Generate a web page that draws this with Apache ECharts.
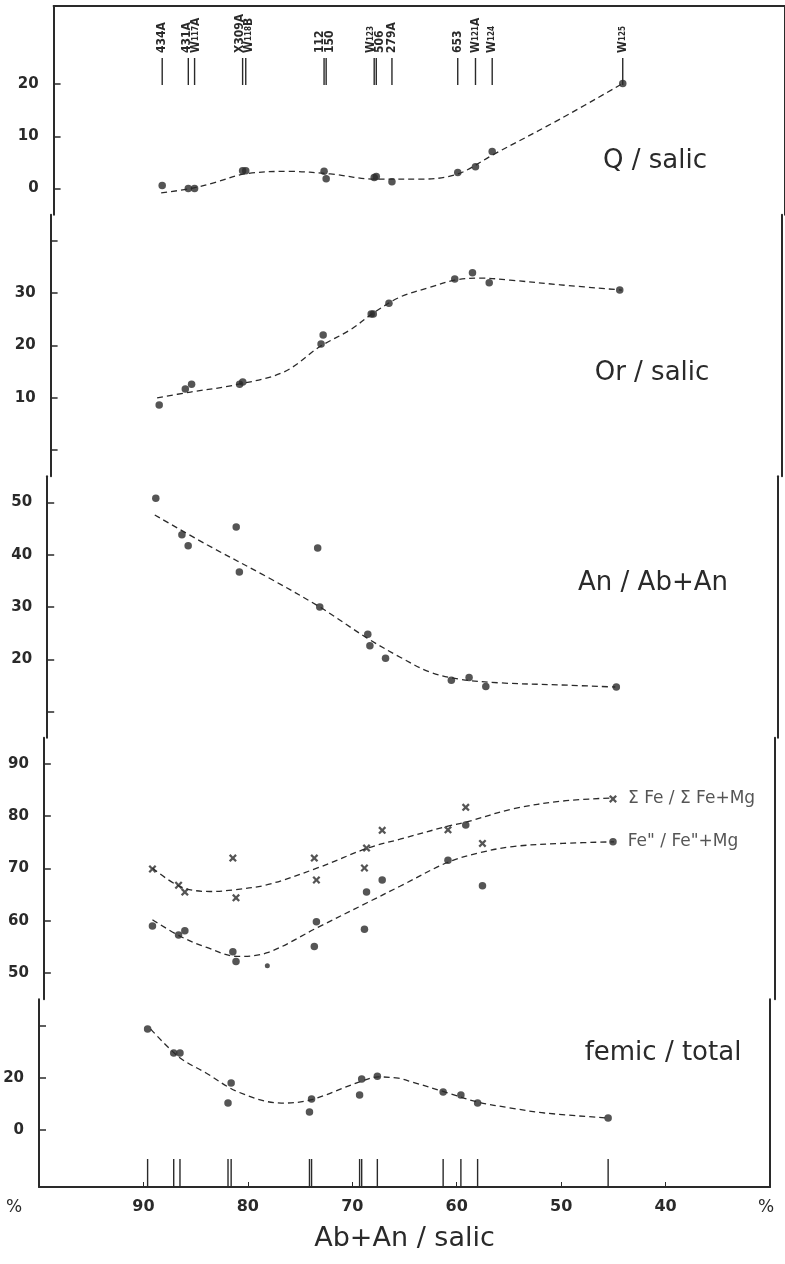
<!DOCTYPE html>
<html><head><meta charset="utf-8">
<script src="https://cdn.jsdelivr.net/npm/echarts@6/dist/echarts.min.js"></script>
<style>html,body{margin:0;padding:0;background:#fff}#c{width:785px;height:1264px}</style>
</head><body><div id="c"></div>
<script>
// ---------- data ----------
const samples  = ['434A','431A','W117A','X309A','W118B','112','150','W123','506','279A','653','W121A','W124','W125'];
const sampleX  = [89.6, 87.1, 86.5, 81.9, 81.6, 74.1, 73.9, 69.3, 69.1, 67.6, 61.3, 59.6, 58.0, 45.5];
const qVals     = [0.6, 0.0, 0.0, 3.4, 3.4, 3.3, 1.9, 2.1, 2.3, 1.3, 3.1, 4.2, 7.1, 20.1];
const orVals    = [8.6, 11.7, 12.6, 12.6, 13.0, 20.3, 22.0, 26.0, 26.0, 28.1, 32.7, 33.9, 32.0, 30.6];
const anVals    = [50.8, 43.8, 41.7, 45.3, 36.7, 41.3, 30.0, 24.8, 22.6, 20.2, 16.0, 16.5, 14.8, 14.7];
const feTotVals = [69.9, 66.8, 65.5, 72.0, 64.4, 72.0, 67.8, 70.1, 73.9, 77.3, 77.4, 81.7, 74.8, 83.3];
const fe2Vals   = [59.0, 57.3, 58.1, 54.1, 52.2, 55.1, 59.8, 58.4, 65.5, 67.8, 71.6, 78.3, 66.7, 75.1];
const femicVals = [38.6, 29.4, 29.4, 10.3, 18.0, 6.9, 11.9, 13.4, 19.5, 20.6, 14.5, 13.4, 10.3, 4.6];
const fe2Extra  = [[78.6, 51.4]];

const qCurve = [[89.7,-0.8],[86.9,0],[84.5,1.2],[81.7,2.8],[77.4,3.3],[73.5,2.8],[69.2,1.8],[64.9,1.8],[61.3,2.8],[57.9,6.5],[51.5,13.3],[45.5,20.1]];
const orCurve = [[89.8,10.0],[86.6,11.1],[82.5,12.4],[77.7,14.9],[74.2,19.8],[71.3,23.0],[69.1,26.2],[66.5,29.3],[63.7,31.1],[61.3,32.5],[58.9,32.9],[56.0,32.5],[51.2,31.6],[45.3,30.6]];
const anCurve = [[89.7,47.6],[84.7,41.9],[78.9,35.7],[73.9,30.0],[69.4,24.1],[66.2,20.4],[63.4,17.6],[60.5,16.2],[56.7,15.5],[50.9,15.1],[45.6,14.7]];
const feTotCurve = [[89.6,70.1],[86.9,66.5],[84.1,65.6],[81.9,65.9],[78.6,66.9],[73.8,70.1],[69.0,73.9],[65.9,75.6],[61.3,78.1],[59.5,78.9],[55.1,81.4],[50.3,82.9],[45.5,83.5]];
const fe2Curve = [[89.6,60.2],[86.9,57.0],[84.4,54.9],[81.5,53.2],[78.6,53.9],[73.8,58.7],[69.0,63.5],[65.9,66.6],[61.3,71.2],[58.3,73.0],[55.1,74.2],[50.3,74.8],[45.4,75.1]];
const femicCurve = [[89.3,38.6],[86.6,27.9],[84.0,21.8],[80.9,14.5],[76.8,10.3],[74.0,11.5],[69.1,18.7],[67.5,20.3],[65.6,19.8],[64.3,18.4],[61.1,14.5],[58.0,10.7],[54.8,8.4],[51.6,6.5],[45.6,4.6]];

const qTicks = [0,10,20], qLabels = [0,10,20];
const orTicks = [0,10,20,30,40], orLabels = [10,20,30];
const anTicks = [10,20,30,40,50], anLabels = [20,30,40,50];
const feTicks = [50,60,70,80,90], feLabels = [50,60,70,80,90];
const femicTicks = [0,20,40], femicLabels = [0,20];
const xLabels = [90,80,70,60,50,40];
const panelTitles = ['Q / salic','Or / salic','An / Ab+An','femic / total'];
const feLegend = ['Σ Fe / Σ Fe+Mg', 'Fe" / Fe"+Mg'];
const xTitle = 'Ab+An / salic';

// ---------- layout ----------
const INK = '#2a2a2a';
const R0 = 84, STEP = 52.3, XMIN = 30, XMAX = 100, BL = 39, BR = 15, AXIS_Y = 1187, H = 1264;
const panels = [
  {ref:0,  refIdx:2,  sv:10, t:(6-R0)/STEP, b:2.5,  skew:14.6, ticks:qTicks, labels:qLabels},
  {ref:10, refIdx:6,  sv:10, t:2.5,  b:7.5,  skew:11.6, ticks:orTicks, labels:orLabels},
  {ref:20, refIdx:11, sv:10, t:7.5,  b:12.5, skew:8.2,  ticks:anTicks, labels:anLabels},
  {ref:50, refIdx:17, sv:10, t:12.5, b:17.5, skew:4.85, ticks:feTicks, labels:feLabels},
  {ref:0,  refIdx:20, sv:20, t:17.5, b:(AXIS_Y-R0)/STEP, skew:0, ticks:femicTicks, labels:femicLabels}
];
const grid = [], xAxis = [], yAxis = [];
const lblFont = {fontFamily:'DejaVu Sans', fontWeight:'bold', fontSize:15, color:INK};
panels.forEach((p,i)=>{
  const top = R0 + STEP*p.t, height = STEP*(p.b-p.t);
  grid.push({left:BL+p.skew, right:BR-p.skew, top:top, height:height});
  const last = i===panels.length-1, first = i===0;
  xAxis.push({gridIndex:i, type:'value', min:XMIN, max:XMAX, inverse:true,
    position: first ? 'top' : 'bottom',
    show: first || last,
    axisLine:{show:true, onZero:false, lineStyle:{color:INK, width:2}},
    axisTick:{show:last, inside:true, length:5, customValues:xLabels, lineStyle:{color:INK}},
    axisLabel:{show:last, customValues:xLabels, margin:12, fontFamily:'DejaVu Sans', fontWeight:'bold', fontSize:16, color:INK},
    splitLine:{show:false},
    name: last ? xTitle : '', nameLocation:'middle', nameGap:38,
    nameTextStyle:{fontFamily:'DejaVu Sans', fontSize:27, color:INK}
  });
  const min = p.ref - (p.b-p.refIdx)*p.sv, max = p.ref + (p.refIdx-p.t)*p.sv;
  yAxis.push({gridIndex:i, type:'value', min:min, max:max, position:'left',
    axisLine:{show:true, onZero:false, lineStyle:{color:INK, width:2}},
    axisTick:{show:true, inside:true, length:7, customValues:p.ticks, lineStyle:{color:INK, width:1.5}},
    axisLabel:Object.assign({customValues:p.labels, margin:15}, lblFont),
    splitLine:{show:false}});
  yAxis.push({gridIndex:i, type:'value', min:min, max:max, position:'right',
    axisLine:{show:true, onZero:false, lineStyle:{color:INK, width:2}},
    axisTick:{show:false}, axisLabel:{show:false}, splitLine:{show:false}});
});
// mark grids: top sample labels (grid 5), bottom sample lines (grid 6)
grid.push({left:BL+14.6, right:BR-14.6, top:58, height:27});
grid.push({left:BL, right:BR, bottom:H-AXIS_Y, height:28});
[5,6].forEach(g=>{
  xAxis.push({gridIndex:g, type:'value', min:XMIN, max:XMAX, inverse:true, show:false});
  yAxis.push({gridIndex:g, type:'value', min:0, max:1, show:false});
});

const pts = vals => sampleX.map((x,i)=>[x, vals[i]]);
function withEndLabel(data, text){
  const d = data.slice();
  const lastItem = d[d.length-1];
  d[d.length-1] = {value:lastItem, label:{show:true, position:'right', distance:11, formatter:text,
    fontFamily:'DejaVu Sans', fontSize:17, color:INK}};
  return d;
}
const crossPath = 'path://M2,0 L5,3 L8,0 L10,2 L7,5 L10,8 L8,10 L5,7 L2,10 L0,8 L3,5 L0,2 Z';
const dot = (name, data, gi, extra) => Object.assign({type:'scatter', name:name, xAxisIndex:gi, yAxisIndex:2*gi, data:data,
  symbol:'circle', symbolSize:7.5, itemStyle:{color:INK}, clip:false, z:5}, extra||{});
const curve = (name, data, gi, extra) => Object.assign({type:'line', name:name, xAxisIndex:gi, yAxisIndex:2*gi, data:data,
  smooth:0.35, showSymbol:false, lineStyle:{color:INK, width:1.3, type:[6,4]}, clip:false, z:3}, extra||{});

function sampleLabel(s){
  const m = /^W(\d+)(.*)$/.exec(s);
  if (m) return '{b|W}{s|' + m[1] + '}' + (m[2] ? '{b|' + m[2] + '}' : '');
  return '{b|' + s + '}';
}
// spread labels of close samples so the rotated texts do not overlap
function dodge(xs, gap){
  const out = xs.slice();
  let i = 0;
  while (i < out.length){
    let j = i;
    while (j+1 < out.length && Math.abs(xs[j+1]-xs[j]) < gap) j++;
    if (j > i){
      let mean = 0; for (let k=i;k<=j;k++) mean += xs[k]; mean /= (j-i+1);
      const start = mean - gap*(j-i)/2;
      for (let k=i;k<=j;k++) out[k] = start + gap*(k-i);
    }
    i = j+1;
  }
  return out;
}
const labelFont = 'DejaVu Sans Condensed';
const series = [
  curve('qc', qCurve, 0), dot('Q', pts(qVals), 0),
  curve('orc', orCurve, 1), dot('Or', pts(orVals), 1),
  curve('anc', anCurve, 2), dot('An', pts(anVals), 2),
  curve('fetc', feTotCurve, 3),
  curve('fe2c', fe2Curve, 3),
  dot('FeTot', withEndLabel(pts(feTotVals), feLegend[0]), 3, {symbol:crossPath, symbolSize:8}),
  dot('Fe2', withEndLabel(pts(fe2Vals), feLegend[1]), 3),
  dot('Fe2x', fe2Extra, 3, {symbolSize:5}),
  curve('femc', femicCurve, 4), dot('femic', pts(femicVals), 4),
  {type:'custom', xAxisIndex:5, yAxisIndex:10, data:sampleX.map(x=>[x,0]), clip:false,
    renderItem:(params, api)=>{
      const x = api.value(0), p0 = api.coord([x,0]), p1 = api.coord([x,1]);
      const allX = sampleX.map(v=>api.coord([v,1])[0]);
      const tx = dodge(allX, 9.5)[params.dataIndex];
      return {type:'group', children:[
        {type:'line', shape:{x1:p0[0], y1:p0[1], x2:p1[0], y2:p1[1]}, style:{stroke:INK, lineWidth:1.4}},
        {type:'text', x:tx, y:p1[1]-5, rotation:Math.PI/2,
          style:{text:sampleLabel(samples[params.dataIndex]), align:'left', verticalAlign:'middle',
            rich:{b:{fontFamily:labelFont, fontWeight:'bold', fontSize:12, fill:INK},
                  s:{fontFamily:labelFont, fontWeight:'bold', fontSize:8, fill:INK}}}}
      ]};
    }},
  {type:'custom', xAxisIndex:6, yAxisIndex:11, data:sampleX.map(x=>[x,0]), clip:false,
    renderItem:(params, api)=>{
      const x = api.value(0), p0 = api.coord([x,0]), p1 = api.coord([x,1]);
      return {type:'line', shape:{x1:p0[0], y1:p0[1], x2:p1[0], y2:p1[1]}, style:{stroke:INK, lineWidth:1.4}};
    }}
];

const titleStyle = {fontFamily:'DejaVu Sans', fontSize:26, fill:INK, textAlign:'center', textVerticalAlign:'middle'};
const graphic = [
  {type:'text', x:655, y:161, style:Object.assign({text:panelTitles[0]}, titleStyle)},
  {type:'text', x:652, y:373, style:Object.assign({text:panelTitles[1]}, titleStyle)},
  {type:'text', x:653, y:583, style:Object.assign({text:panelTitles[2]}, titleStyle)},
  {type:'text', x:663, y:1053, style:Object.assign({text:panelTitles[3]}, titleStyle)},
  {type:'text', x:14, y:1208, style:{text:'%', fontFamily:'DejaVu Sans', fontSize:17, fill:INK, textAlign:'center', textVerticalAlign:'middle'}},
  {type:'text', x:766, y:1208, style:{text:'%', fontFamily:'DejaVu Sans', fontSize:17, fill:INK, textAlign:'center', textVerticalAlign:'middle'}}
];

const chart = echarts.init(document.getElementById('c'), null, {renderer:'canvas'});
chart.setOption({backgroundColor:'#fff', animation:false, grid, xAxis, yAxis, series, graphic});
</script></body></html>
